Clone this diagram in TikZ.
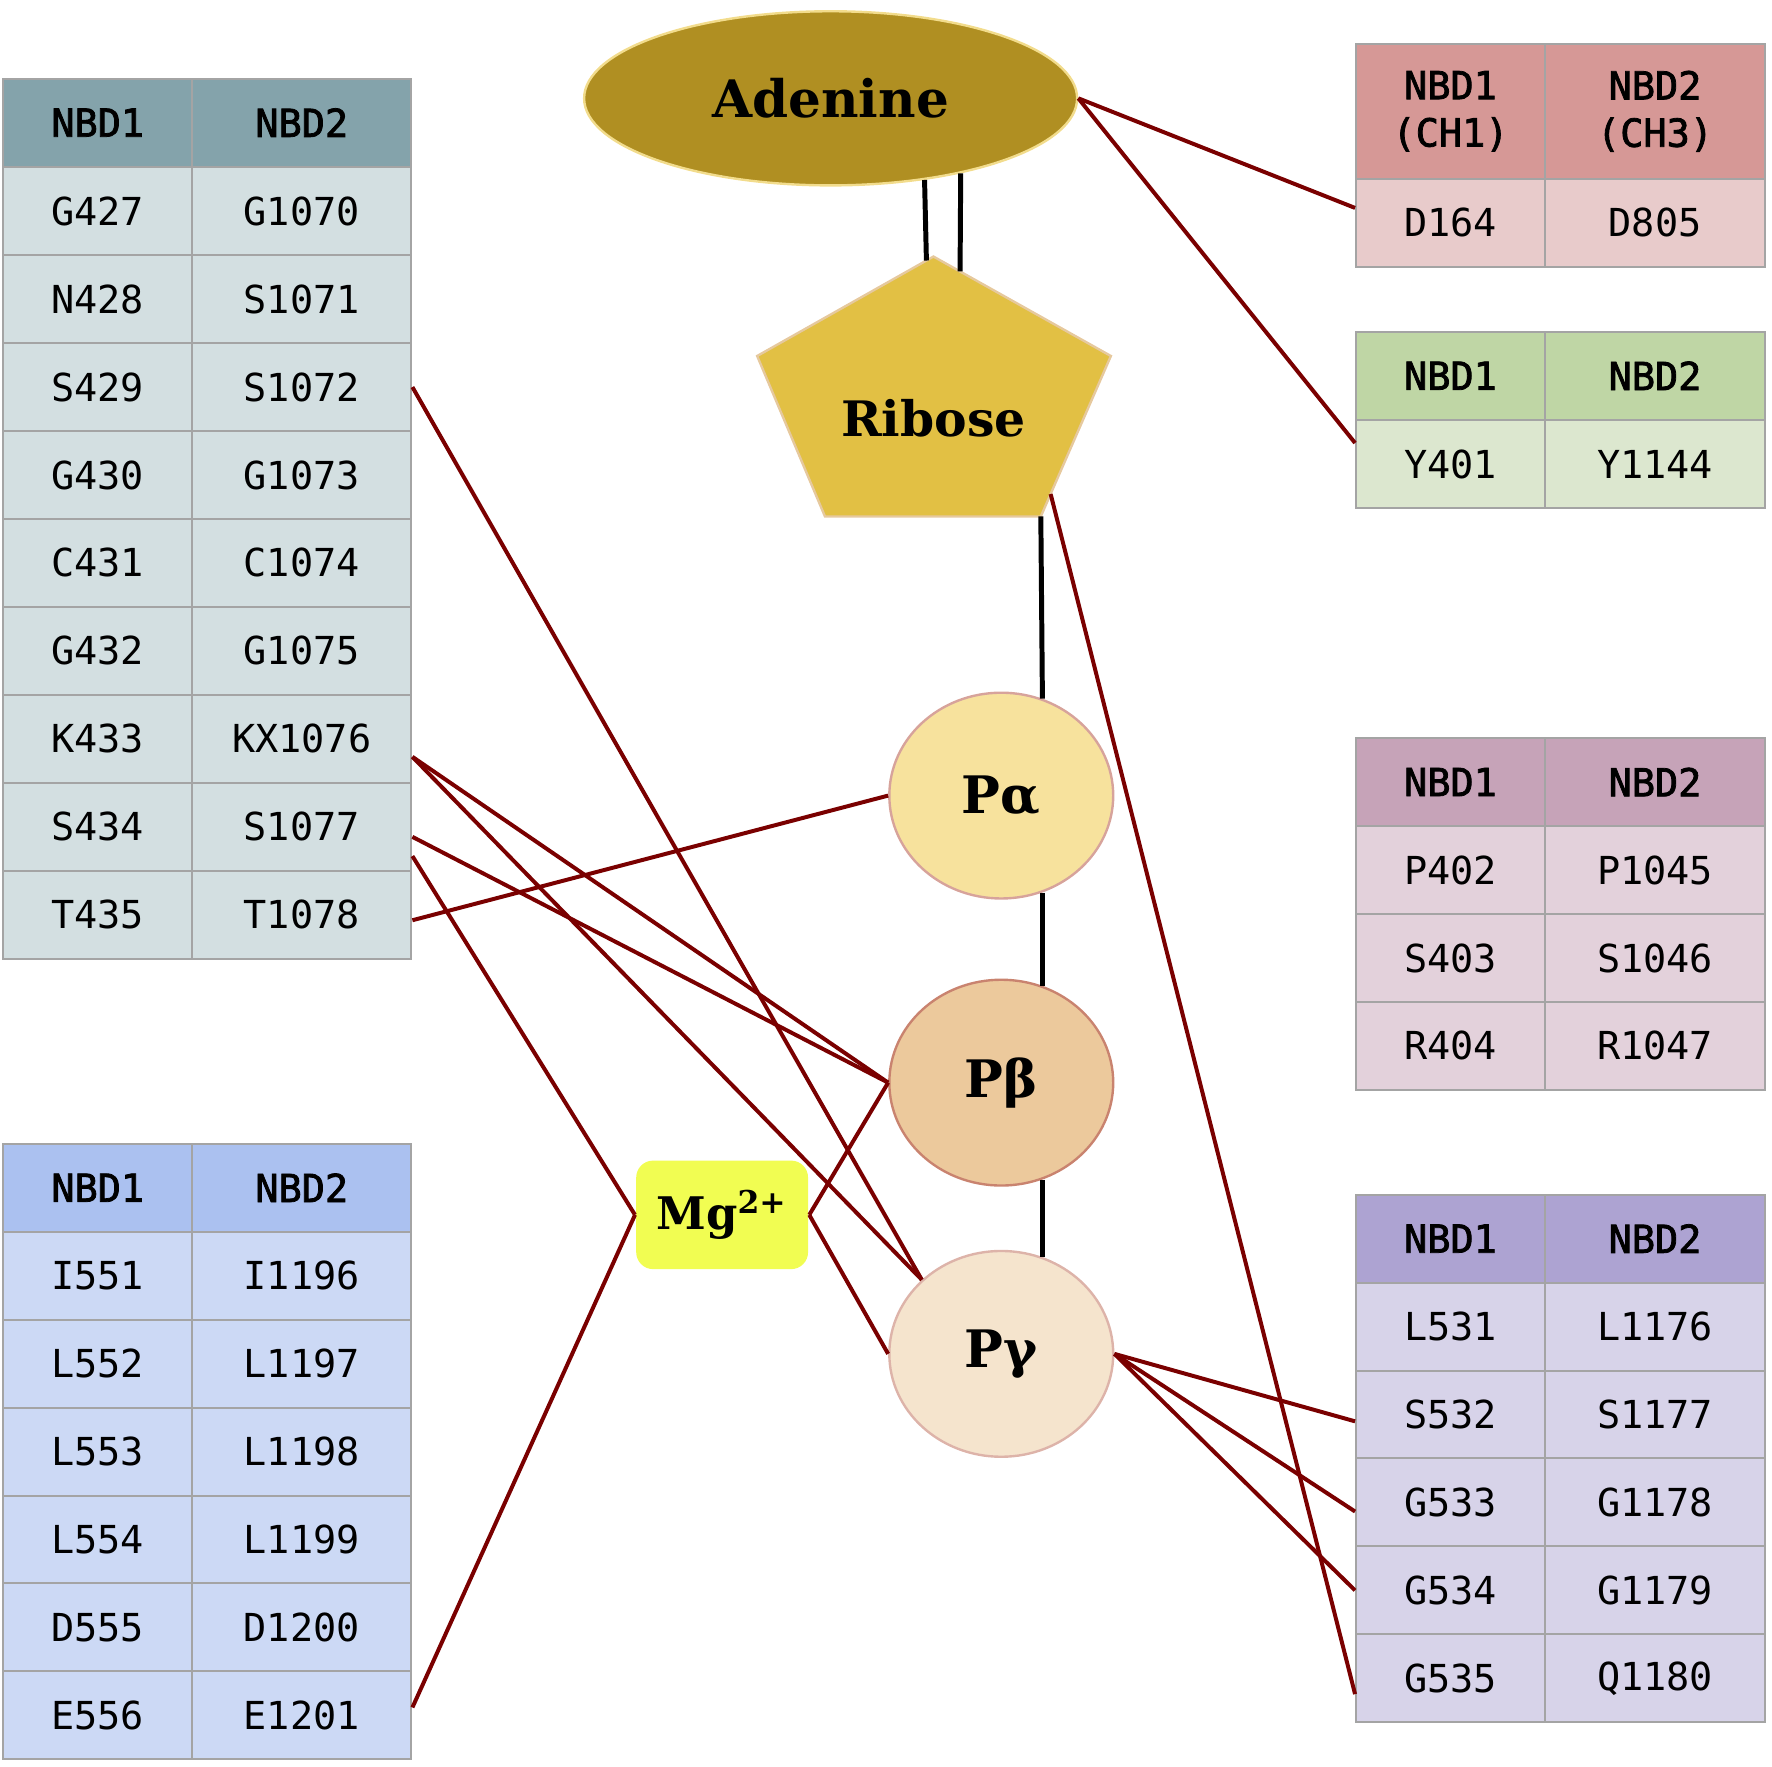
\documentclass[tikz,border=0pt]{standalone}
\usepackage{fontspec}
\setmainfont{DejaVu Serif}
\newfontfamily\monofont{DejaVu Sans Mono}
\newfontfamily\monohead[FakeBold=2]{DejaVu Sans Mono}
\usetikzlibrary{shapes.geometric,calc}

\definecolor{tabline}{HTML}{A4A4A4}
\definecolor{tealhead}{HTML}{84A3AB}
\definecolor{tealbody}{HTML}{D3DFE1}
\definecolor{bluehead}{HTML}{ABC1F0}
\definecolor{bluebody}{HTML}{CCD9F5}
\definecolor{redhead}{HTML}{D69896}
\definecolor{redbody}{HTML}{E8CBCB}
\definecolor{greenhead}{HTML}{BFD6A5}
\definecolor{greenbody}{HTML}{DCE7CF}
\definecolor{mauvehead}{HTML}{C6A3B8}
\definecolor{mauvebody}{HTML}{E3D1DB}
\definecolor{purphead}{HTML}{ADA3D2}
\definecolor{purpbody}{HTML}{D7D3E9}
\definecolor{adeninefill}{HTML}{B08F22}
\definecolor{adenineline}{HTML}{F2DC8C}
\definecolor{ribosefill}{HTML}{E2C044}
\definecolor{riboseline}{HTML}{E6C99E}
\definecolor{pafill}{HTML}{F7E29D}
\definecolor{paline}{HTML}{D7A39B}
\definecolor{pbfill}{HTML}{ECC99C}
\definecolor{pbline}{HTML}{C9836F}
\definecolor{pgfill}{HTML}{F5E4CD}
\definecolor{pgline}{HTML}{DDB3A9}
\definecolor{mgfill}{HTML}{F1FD52}
\definecolor{contactred}{HTML}{7A0000}

\tikzset{
  cell/.style={rectangle,draw=tabline,line width=0.5pt,inner sep=0pt,
    minimum height=0.778cm,font=\monofont\fontsize{9.7}{11.6}\selectfont},
  head/.style={cell,font=\monohead\fontsize{9.7}{11.9}\selectfont},
  colA/.style={minimum width=1.67cm},
  colB/.style={minimum width=1.94cm},
  group/.style={line width=0.6pt,inner sep=0pt,font=\bfseries\fontsize{13}{15}\selectfont},
  phos/.style={group,ellipse,minimum width=1.98cm,minimum height=1.82cm},
  bond/.style={line width=1.25pt,black},
  contact/.style={line width=1pt,contactred},
}

\begin{document}
\begin{tikzpicture}[x=0.01cm,y=-0.01cm]
\useasboundingbox (0,0) rectangle (1568,1563);

% ATP parts
\node[group,ellipse,fill=adeninefill,draw=adenineline,minimum width=4.36cm,minimum height=1.54cm] (adenine) at (735,87) {Adenine};
\coordinate (rib-t) at (826,227);
\coordinate (rib-l) at (670,315);
\coordinate (rib-bl) at (730,457);
\coordinate (rib-br) at (921,457);
\coordinate (rib-r) at (983,315);
\filldraw[fill=ribosefill,draw=riboseline,line width=0.6pt] (rib-t) -- (rib-l) -- (rib-bl) -- (rib-br) -- (rib-r) -- cycle;
\node[group,font=\bfseries\fontsize{12.3}{14}\selectfont] (ribose) at (826,370) {Ribose};
\node[phos,fill=pafill,draw=paline] (pa) at (886,704) {Pα};
\node[phos,fill=pbfill,draw=pbline] (pb) at (886,958) {Pβ};
\node[phos,fill=pgfill,draw=pgline] (pg) at (886,1198) {Pγ};
\node[group,rectangle,rounded corners=0.15cm,fill=mgfill,minimum width=1.52cm,minimum height=0.96cm,font=\bfseries\fontsize{11.3}{13}\selectfont] (mg) at (639,1075) {Mg\textsuperscript{2+}};

% left upper table
\node[head,colA,fill=tealhead] (lu-h-a) at (86.5,108.5) {NBD1};
\node[head,colB,fill=tealhead] (lu-h-b) at (267,108.5) {NBD2};
\foreach \a/\b [count=\i] in {G427/G1070,N428/S1071,S429/S1072,G430/G1073,C431/C1074,G432/G1075,K433/KX1076,S434/S1077,T435/T1078}{
  \node[cell,colA,fill=tealbody] (lu-\i-a) at (86.5,{148+77.8*(\i-0.5)}) {\a};
  \node[cell,colB,fill=tealbody] (lu-\i-b) at (267,{148+77.8*(\i-0.5)}) {\b};
}

% left lower table
\node[head,colA,fill=bluehead] (ll-h-a) at (86.5,1051) {NBD1};
\node[head,colB,fill=bluehead] (ll-h-b) at (267,1051) {NBD2};
\foreach \a/\b [count=\i] in {I551/I1196,L552/L1197,L553/L1198,L554/L1199,D555/D1200,E556/E1201}{
  \node[cell,colA,fill=bluebody] (ll-\i-a) at (86.5,{1090+77.8*(\i-0.5)}) {\a};
  \node[cell,colB,fill=bluebody] (ll-\i-b) at (267,{1090+77.8*(\i-0.5)}) {\b};
}

% right tables
\node[head,colA,fill=redhead,minimum height=1.19cm,align=center] (rr-h-a) at (1283.5,98.5) {NBD1\\(CH1)};
\node[head,colB,fill=redhead,minimum height=1.19cm,align=center] (rr-h-b) at (1464.5,98.5) {NBD2\\(CH3)};
\node[cell,colA,fill=redbody] (rr-1-a) at (1283.5,197) {D164};
\node[cell,colB,fill=redbody] (rr-1-b) at (1464.5,197) {D805};

\node[head,colA,fill=greenhead] (rg-h-a) at (1283.5,332.5) {NBD1};
\node[head,colB,fill=greenhead] (rg-h-b) at (1464.5,332.5) {NBD2};
\node[cell,colA,fill=greenbody] (rg-1-a) at (1283.5,411) {Y401};
\node[cell,colB,fill=greenbody] (rg-1-b) at (1464.5,411) {Y1144};

\node[head,colA,fill=mauvehead] (rm-h-a) at (1283.5,692) {NBD1};
\node[head,colB,fill=mauvehead] (rm-h-b) at (1464.5,692) {NBD2};
\foreach \a/\b [count=\i] in {P402/P1045,S403/S1046,R404/R1047}{
  \node[cell,colA,fill=mauvebody] (rm-\i-a) at (1283.5,{731+77.8*(\i-0.5)}) {\a};
  \node[cell,colB,fill=mauvebody] (rm-\i-b) at (1464.5,{731+77.8*(\i-0.5)}) {\b};
}

\node[head,colA,fill=purphead] (rp-h-a) at (1283.5,1096) {NBD1};
\node[head,colB,fill=purphead] (rp-h-b) at (1464.5,1096) {NBD2};
\foreach \a/\b [count=\i] in {L531/L1176,S532/S1177,G533/G1178,G534/G1179,G535/Q1180}{
  \node[cell,colA,fill=purpbody] (rp-\i-a) at (1283.5,{1135+77.8*(\i-0.5)}) {\a};
  \node[cell,colB,fill=purpbody] (rp-\i-b) at (1464.5,{1135+77.8*(\i-0.5)}) {\b};
}

% bonds
\draw[bond] (adenine.-41) -- ($(rib-t)!0.04!(rib-l)$);
\draw[bond] (adenine.-30) -- ($(rib-t)!0.15!(rib-r)$);
\draw[bond] (rib-br) -- (pa.67);
\draw[bond] (pa.-67) -- (pb.67);
\draw[bond] (pb.-67) -- (pg.67);

% contacts
\draw[contact] (adenine.east) -- ([yshift=0.13cm]rr-1-a.west);
\draw[contact] (adenine.east) -- ([yshift=0.19cm]rg-1-a.west);
\draw[contact] ($(rib-br)!0.14!(rib-r)$) -- ([yshift=-0.14cm]rp-5-a.west);
\draw[contact] (pg.east) -- ([yshift=-0.06cm]rp-2-a.west);
\draw[contact] (pg.east) -- ([yshift=-0.08cm]rp-3-a.west);
\draw[contact] (pg.east) -- (rp-4-a.west);
\draw[contact] (lu-3-b.east) -- (pg.137);
\draw[contact] ([yshift=-0.16cm]lu-7-b.east) -- (pb.west);
\draw[contact] ([yshift=-0.16cm]lu-7-b.east) -- (pg.137);
\draw[contact] ([yshift=-0.09cm]lu-8-b.east) -- (pb.west);
\draw[contact] ([yshift=-0.26cm]lu-8-b.east) -- (mg.west);
\draw[contact] ([yshift=-0.05cm]lu-9-b.east) -- (pa.west);
\draw[contact] (mg.east) -- (pb.west);
\draw[contact] (mg.east) -- (pg.west);
\draw[contact] (mg.west) -- ([yshift=0.07cm]ll-6-b.east);
\end{tikzpicture}
\end{document}
